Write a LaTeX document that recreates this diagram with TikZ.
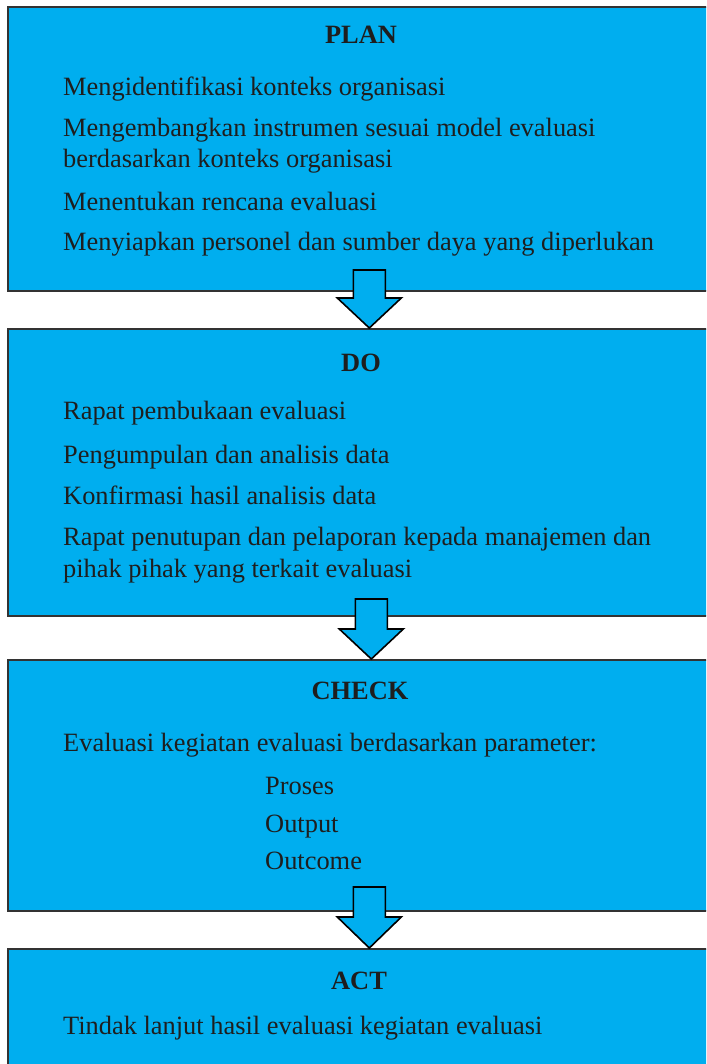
\documentclass[tikz,border=0pt]{standalone}
\usepackage{fontspec}
\setmainfont{Liberation Serif}
\usetikzlibrary{positioning}
\definecolor{pdcafill}{RGB}{0,174,239}
\definecolor{pdcaline}{RGB}{51,51,51}
\definecolor{pdcatext}{RGB}{30,30,30}

\tikzset{
  phasebox/.style={draw=pdcaline, line width=1.6pt, fill=pdcafill, anchor=north west,
    minimum width=713pt, inner sep=0pt},
  blockarrow/.style={draw=black, line width=1.6pt, fill=pdcafill, line join=miter},
  phasetitle/.style={anchor=base, text=pdcatext, font=\fontsize{26.4}{31}\selectfont\bfseries},
  steptext/.style={anchor=base west, text=pdcatext, font=\fontsize{26.4}{31}\selectfont, inner sep=0pt}
}

\begin{document}
\begin{tikzpicture}[x=1pt, y=-1pt]
  \useasboundingbox[fill=white] (0,0) rectangle (706,1064);
  \clip (0,0) rectangle (706,1064);

  % the four phases
  \node[phasebox, minimum height=284pt] (plan) at (7,6) {};
  \node[phasebox, minimum height=287pt] (do) at (7,328) {};
  \node[phasebox, minimum height=251pt] (check) at (7,659) {};
  \node[phasebox, minimum height=140pt] (act) at (7,948) {};

  % block arrows between the phases
  \draw[blockarrow] ([xshift=5pt]do.north) -- ++(32,-30) -- ++(-16,0) -- ++(0,-28)
    -- ++(-32,0) -- ++(0,28) -- ++(-16,0) -- cycle;
  \draw[blockarrow] ([xshift=7pt]check.north) -- ++(32,-30) -- ++(-16,0) -- ++(0,-30)
    -- ++(-32,0) -- ++(0,30) -- ++(-16,0) -- cycle;
  \draw[blockarrow] ([xshift=5pt]act.north) -- ++(32,-31) -- ++(-16,0) -- ++(0,-30)
    -- ++(-32,0) -- ++(0,30) -- ++(-16,0) -- cycle;

  % PLAN
  \node[phasetitle] (plantitle) at (361,44) {PLAN};
  \node[steptext] (plan1) at (63,96) {Mengidentifikasi konteks organisasi};
  \node[steptext] (plan2) at (63,137) {Mengembangkan instrumen sesuai model evaluasi};
  \node[steptext] (plan2b) at (63,168) {berdasarkan konteks organisasi};
  \node[steptext] (plan3) at (63,211) {Menentukan rencana evaluasi};
  \node[steptext] (plan4) at (63,251) {Menyiapkan personel dan sumber daya yang diperlukan};

  % DO
  \node[phasetitle] (dotitle) at (361,371) {DO};
  \node[steptext] (do1) at (63,419) {Rapat pembukaan evaluasi};
  \node[steptext] (do2) at (63,463) {Pengumpulan dan analisis data};
  \node[steptext] (do3) at (63,504) {Konfirmasi hasil analisis data};
  \node[steptext] (do4) at (63,545) {Rapat penutupan dan pelaporan kepada manajemen dan};
  \node[steptext] (do4b) at (63,577) {pihak pihak yang terkait evaluasi};

  % CHECK
  \node[phasetitle] (checktitle) at (360,699) {CHECK};
  \node[steptext] (check1) at (63,751) {Evaluasi kegiatan evaluasi berdasarkan parameter:};
  \node[steptext] (check2) at (265,794) {Proses};
  \node[steptext] (check3) at (265,832) {Output};
  \node[steptext] (check4) at (265,869) {Outcome};

  % ACT
  \node[phasetitle] (acttitle) at (359,989) {ACT};
  \node[steptext] (act1) at (63,1034) {Tindak lanjut hasil evaluasi kegiatan evaluasi};
\end{tikzpicture}
\end{document}
